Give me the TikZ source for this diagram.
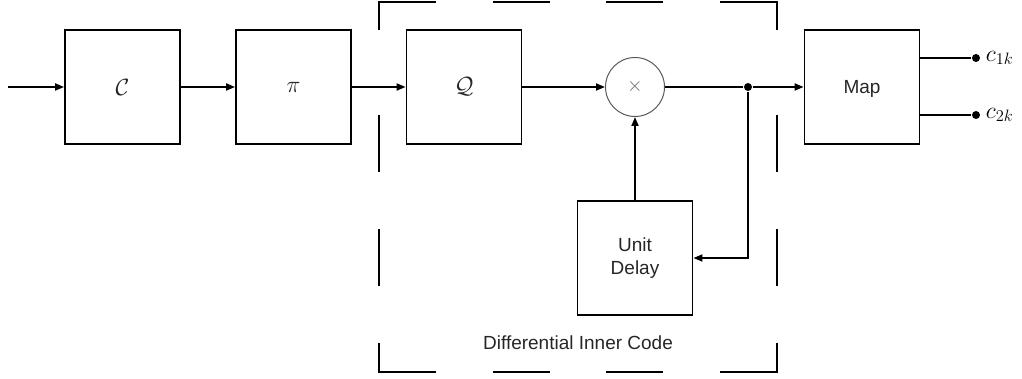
\RequirePackage{fix-cm}
\documentclass[tikz,border=0pt]{standalone}
\usepackage{fontspec}
\setsansfont{Liberation Sans}
\usetikzlibrary{arrows.meta}
\newcommand\mathbig{\fontsize{23.5}{28}\selectfont}
\begin{document}
\begin{tikzpicture}[x=1pt,y=-1pt,
  line width=1.8pt,
  >={Triangle[length=9pt,width=7pt]},
  txt/.style={font=\sffamily\fontsize{19}{23}\selectfont, text=black!85},
  blk/.style={draw, line width=1.8pt, minimum width=115pt, minimum height=114pt,
              inner sep=0pt, txt, align=center},
  mblk/.style={blk, font=\mathbig},
  mult/.style={circle, draw=black!65, line width=1pt, minimum size=59pt,
               inner sep=0pt, text=black!60, font=\fontsize{20}{24}\selectfont},
  dot/.style={circle, fill=black, inner sep=0pt, minimum size=8pt},
  frame/.style={line width=1.8pt},
  lab/.style={anchor=west, inner sep=0pt, font=\mathbig}]
\useasboundingbox (0,0) rectangle (1022,379);

% processing chain
\coordinate (in) at (8,87);
\node[mblk] (C) at (122.5,87) {$\mathcal{C}$};
\node[mblk] (P) at (293.5,87) {$\pi$};
\node[mblk] (Q) at (464,87) {$\mathcal{Q}$};
\node[mult] (X) at (635,87) {$\times$};
\node[dot] (J) at (748,87) {};
\node[blk, text depth=0pt] (M) at (862,87) {Map};
\node[blk] (U) at (635,258) {Unit\\Delay};

% outputs of the mapper
\node[dot] (o1) at (976,58) {};
\node[dot] (o2) at (976,115) {};
\node[lab] (c1) at (985,58) {$c_{1k}$};
\node[lab] (c2) at (985,115) {$c_{2k}$};

% connectors
\draw[->] (in) -- (C);
\draw[->] (C) -- (P);
\draw[->] (P) -- (Q);
\draw[->] (Q) -- (X);
\draw (X) -- (J);
\draw[->] (J) -- (M);
\draw[->] (J) |- (U);
\draw[->] (U.north) -- (X.south);
\draw (M.east |- o1) -- (o1);
\draw (M.east |- o2) -- (o2);

% dashed frame of the differential inner code
\coordinate (fa) at (379,2);
\coordinate (fb) at (777,372);
\draw[frame] (379,30) -- (fa) -- (436,2);
\draw[frame] (493,2) -- (550,2);
\draw[frame] (606,2) -- (663,2);
\draw[frame] (720,2) -- (777,2) -- (777,30);
\draw[frame] (379,343) -- (379,372) -- (436,372);
\draw[frame] (493,372) -- (550,372);
\draw[frame] (606,372) -- (663,372);
\draw[frame] (720,372) -- (fb) -- (777,343);
\foreach \x in {379,777} {
  \draw[frame] (\x,115) -- (\x,172);
  \draw[frame] (\x,229) -- (\x,286);
}
\node[txt] (dic) at (578,343) {Differential Inner Code};
\end{tikzpicture}
\end{document}
